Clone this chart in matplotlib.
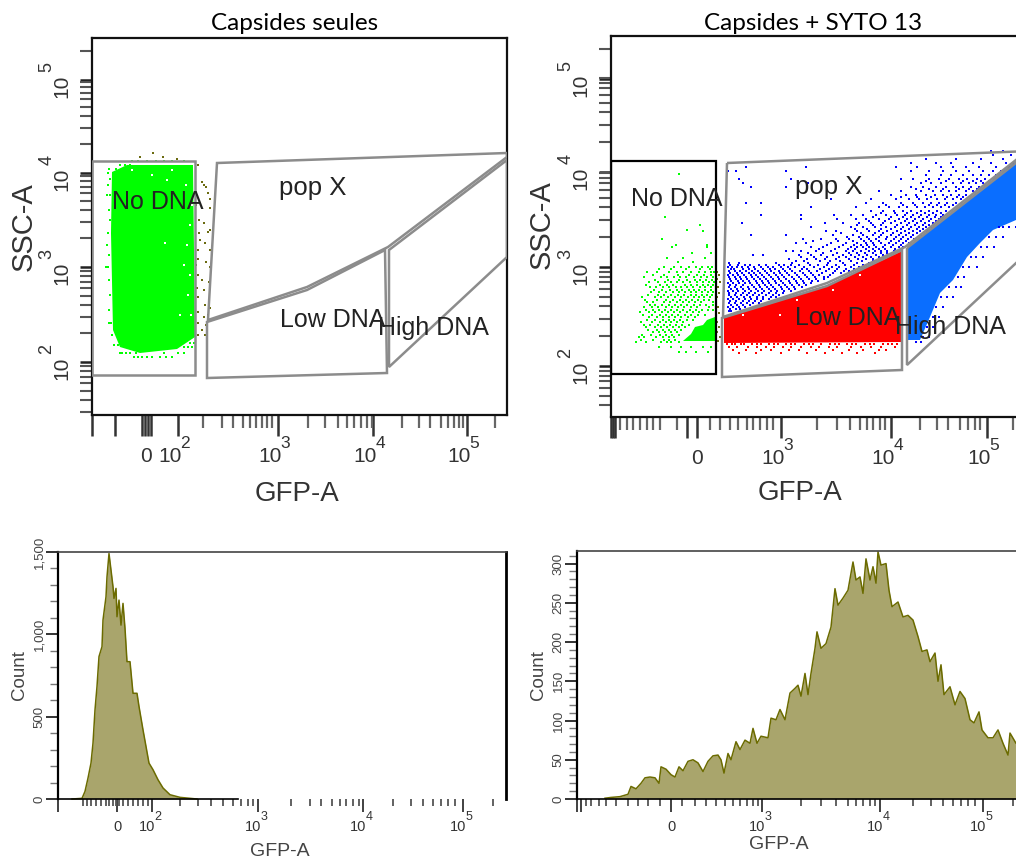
import numpy as np
import matplotlib
matplotlib.use("Agg")
import matplotlib.pyplot as plt
from matplotlib.patches import Polygon

plt.rcParams["font.family"] = ["Liberation Sans", "DejaVu Sans"]

# all positions below are display channels of each plot

# ---- scatter plots: axis ticks ----
left_x_long = [0, 23, 50, 53, 56, 59, 86, 186, 281, 375]
left_x_label_pos = [54, 86, 186, 281, 375]
left_x_exps = [None, 2, 3, 4, 5]
left_x_minor = [111, 130, 141, 151, 158, 164, 170, 175, 180,
                216, 233, 246, 255, 262, 269, 275, 280, 310, 327, 338, 349, 356, 362, 367, 371, 403]
right_x_long = [0, 2, 4, 76, 86, 170, 280, 376]
right_x_label_pos = [86, 170, 280, 376]
right_x_exps = [None, 3, 4, 5]
right_x_minor = [9, 16, 22, 29, 36, 42, 49, 66, 99, 109, 119, 127, 136, 142, 149, 156, 162,
                 206, 226, 239, 249, 256, 262, 269, 274, 309, 326, 337, 349, 357, 364, 369, 402]
left_y_major = [53, 148, 242, 335]
right_y_major = [51, 150, 245, 338]
y_exps = [2, 3, 4, 5]

# ---- gates ----
left_no_dna = [(0, 254), (103, 254), (103, 40), (0, 40)]
left_pop_x = [(125, 252), (415, 262), (415, 258), (296, 168), (215, 128), (116, 95)]
left_low_dna = [(115, 93), (215, 125), (293, 165), (295, 42), (115, 37)]
left_high_dna = [(297, 165), (415, 255), (415, 158), (297, 48)]
right_no_dna = [(0, 256), (105, 256), (105, 43), (0, 43)]
right_pop_x = [(116, 254), (419, 266), (419, 268), (294, 170), (216, 134), (112, 100)]
right_low_dna = [(111, 99), (216, 131), (291, 167), (291, 47), (111, 40)]
right_high_dna = [(296, 169), (419, 265), (419, 167), (296, 52)]

# ---- scatter plots: populations ----
left_green_core = [(20, 243), (35, 250), (101, 250), (103, 78), (85, 66), (48, 62), (28, 68), (21, 85), (19, 182)]
left_green_edge = [
    (254, [40, 46, 55, 64, 72, 80, 92]), (250, [28, 33, 38]), (246, [17, 24, 30]), (242, [16, 22]), (236, [18]),
    (230, [16]), (220, [18, 15]), (205, [17]), (195, [18]), (182, [16]), (170, [15]), (160, [17]), (148, [14, 16]),
    (135, [17]), (120, [18]), (105, [17]), (92, [19, 17]), (80, [20]), (70, [22, 26]), (62, [28, 34, 38, 44, 30]),
    (58, [42, 46, 50, 55, 60, 68, 74, 80]), (62, [72, 86, 92]), (68, [92, 96, 100]), (72, [98, 102])]
left_green_specks = [(95, 170), (98, 190), (92, 150), (96, 120), (99, 100), (88, 100), (94, 230), (80, 245),
                     (60, 240), (75, 235), (40, 245), (73, 172), (100, 210), (98, 140)]
left_olive = [(48, 258), (61, 262), (71, 258), (85, 256), (106, 250), (110, 233), (112, 230), (114, 228),
              (116, 222), (118, 216), (118, 207), (107, 195), (112, 192), (118, 185), (107, 182), (116, 183),
              (108, 175), (113, 172), (106, 165), (118, 165), (106, 156), (114, 153), (118, 148), (106, 140),
              (110, 135), (117, 133), (105, 127), (112, 125), (106, 118), (113, 110), (118, 107), (106, 103),
              (112, 98), (116, 100), (106, 92), (114, 90), (110, 85), (106, 80), (113, 80), (104, 210), (104, 150)]

right_green_core = [(72, 76), (104, 76), (104, 100), (96, 97), (92, 92), (84, 90), (80, 83)]
right_green_rows = [
    (243, [68]), (200, [54]), (192, [89]), (187, [76]), (186, [92]), (178, [51]), (172, [65, 96]), (170, [61, 96]),
    (164, [81, 100]), (159, [56, 72, 94]), (155, [67, 82]),
    (150, [53, 63, 70, 78, 85, 91, 97, 101]), (148, [48, 60, 75, 89, 99]),
    (145, [36, 46, 58, 66, 72, 80, 88, 94, 100, 103]), (142, [42, 53, 67, 78, 86, 93, 100]),
    (140, [33, 50, 56, 63, 69, 75, 83, 90, 96, 102]), (137, [44, 57, 68, 76, 84, 89, 95, 101]),
    (135, [38, 47, 54, 60, 66, 72, 79, 86, 92, 98, 103]), (132, [35, 49, 56, 62, 74, 80, 86, 92, 97, 102]),
    (130, [39, 45, 52, 58, 65, 70, 76, 82, 89, 94, 100]), (127, [43, 51, 59, 66, 71, 78, 83, 88, 94, 100]),
    (125, [40, 48, 55, 62, 68, 74, 80, 85, 91, 97, 102]), (122, [37, 47, 53, 60, 67, 73, 80, 85, 91, 96, 101]),
    (120, [31, 44, 50, 57, 64, 70, 77, 83, 88, 93, 99]), (117, [34, 46, 55, 62, 69, 75, 81, 87, 93, 98]),
    (115, [36, 42, 53, 59, 66, 72, 78, 84, 90, 102]), (112, [39, 44, 51, 58, 64, 70, 76, 83, 89, 95, 102]),
    (110, [33, 41, 47, 55, 61, 67, 73, 80, 86, 98]), (107, [35, 42, 48, 54, 60, 66, 72, 79, 85, 91, 97, 102]),
    (105, [29, 38, 44, 51, 57, 63, 69, 76, 82, 88]), (102, [32, 41, 49, 55, 61, 67, 74, 80, 87, 94]),
    (100, [38, 46, 52, 58, 64, 70, 77, 84]), (97, [36, 44, 52, 58, 63, 69, 76, 82]),
    (95, [30, 41, 49, 55, 60, 66, 72]), (92, [33, 39, 47, 53, 59, 65, 71, 78]),
    (90, [35, 44, 50, 56, 62, 68, 74]), (87, [37, 46, 52, 58, 64, 70]),
    (85, [42, 48, 54, 60, 66]), (82, [31, 40, 49, 55, 61, 68]), (80, [28, 33, 45, 52, 58, 63]),
    (77, [30, 42, 53, 58, 64]), (75, [25, 35, 50, 56, 60, 68]),
    (70, [48, 60, 70, 80, 92, 100]), (65, [68, 75, 85, 97])]
right_olive = [(106, 145), (108, 142), (106, 138), (109, 135), (107, 130), (106, 95), (108, 90), (106, 85),
               (109, 80), (107, 76), (107, 110), (108, 104), (106, 120), (108, 124)]

blue_rows = [
    (266, [380, 392]), (262, [382, 400, 412]), (258, [315, 345, 370, 392, 408]), (254, [300, 325, 340, 362, 380, 395, 402]),
    (250, [135, 195, 285, 306, 330, 342, 355, 368, 385, 398]), (246, [117, 125, 175, 300, 318, 332, 345, 358, 372, 382, 390]),
    (242, [315, 330, 340, 352, 362, 370, 378, 385]), (238, [128, 180, 290, 302, 318, 328, 338, 348, 356, 366, 374]),
    (236, [315, 335, 352, 362, 370, 378]),
    (234, [132, 197, 310, 320, 330, 342, 350, 358, 365, 372]), (230, [140, 175, 300, 312, 325, 335, 345, 352, 360, 368]),
    (228, [305, 318, 332, 348, 358, 366]),
    (226, [268, 290, 310, 322, 330, 338, 345, 355, 362]), (222, [280, 295, 305, 315, 324, 332, 340, 348, 355]),
    (220, [290, 306, 320, 336, 346, 352]),
    (218, [220, 260, 285, 298, 308, 316, 326, 334, 342, 350]), (214, [135, 150, 255, 272, 290, 302, 312, 320, 328, 336, 345]),
    (212, [275, 292, 304, 318, 326, 334, 342]),
    (210, [200, 245, 268, 278, 288, 296, 306, 314, 322, 330, 338]), (206, [260, 272, 283, 292, 300, 310, 318, 326, 335]),
    (204, [270, 284, 296, 306, 314, 322, 330]),
    (202, [150, 190, 223, 240, 252, 265, 275, 286, 294, 302, 310, 318, 325, 332]),
    (200, [262, 280, 292, 300, 308, 316, 324, 330]),
    (198, [190, 226, 245, 255, 268, 278, 288, 296, 304, 312, 320, 328]),
    (196, [258, 274, 284, 294, 302, 310, 318, 325]),
    (194, [131, 214, 232, 248, 260, 272, 280, 290, 298, 306, 314, 322]),
    (192, [246, 262, 270, 286, 296, 304, 312, 318]),
    (190, [200, 240, 252, 264, 275, 284, 292, 300, 308, 315, 320]),
    (188, [244, 256, 270, 280, 290, 298, 306, 312]),
    (186, [215, 225, 246, 258, 268, 276, 286, 294, 302, 309, 316]),
    (184, [230, 250, 264, 272, 282, 290, 298, 306]),
    (182, [140, 175, 222, 242, 252, 262, 270, 280, 288, 295, 302, 310]),
    (180, [236, 248, 256, 268, 276, 285, 292, 300]),
    (178, [192, 210, 225, 238, 250, 258, 265, 275, 283, 290, 297, 303]),
    (176, [202, 227, 242, 253, 260, 268, 280, 288, 295]),
    (174, [185, 195, 220, 235, 246, 255, 262, 270, 278, 285, 292, 298]),
    (172, [216, 232, 243, 250, 256, 263, 274, 282, 290]),
    (170, [200, 212, 228, 240, 246, 252, 258, 265, 272, 280, 288, 292]),
    (168, [208, 224, 237, 244, 255, 262, 268, 274, 284]),
    (166, [175, 182, 190, 205, 220, 235, 242, 250, 258, 264, 270, 276, 283]),
    (164, [197, 212, 226, 238, 246, 254, 262, 270, 276]),
    (162, [142, 152, 188, 200, 210, 222, 232, 240, 248, 256, 265, 272, 278]),
    (160, [190, 203, 216, 228, 235, 244, 252, 260, 268]),
    (158, [178, 196, 205, 214, 225, 238, 247, 255, 262, 270]),
    (156, [185, 193, 209, 219, 229, 240, 251, 262]),
    (154, [118, 128, 165, 181, 197, 217, 232, 246, 258]),
    (152, [119, 127, 134, 139, 148, 155, 168, 173, 180, 188, 199, 207, 216, 225, 234, 243, 252]),
    (150, [117, 121, 126, 131, 137, 143, 150, 157, 162, 170, 177, 184, 193, 203, 213, 221, 228, 240, 248]),
    (148, [120, 123, 132, 138, 144, 152, 159, 164, 172, 179, 191, 196, 209, 218, 226, 235, 243]),
    (146, [118, 124, 129, 135, 141, 147, 154, 160, 168, 174, 181, 189, 198, 206, 215, 224, 233, 238]),
    (144, [119, 126, 131, 138, 143, 149, 156, 163, 169, 176, 184, 192, 200, 211, 222, 230]),
    (142, [117, 122, 127, 133, 140, 145, 151, 158, 165, 171, 178, 186, 194, 202, 208, 219]),
    (140, [118, 124, 129, 135, 141, 147, 153, 160, 167, 173, 181, 188, 196, 204, 213, 217]),
    (138, [119, 125, 130, 136, 143, 149, 155, 162, 168, 175, 183, 190, 198, 205, 213]),
    (136, [120, 127, 132, 138, 145, 151, 157, 164, 170, 178, 185, 192, 201, 207]),
    (134, [117, 122, 128, 134, 139, 146, 152, 158, 165, 172, 179, 186, 193, 200]),
    (132, [119, 125, 132, 141, 148, 154, 160, 168, 174, 181, 188, 195]),
    (130, [118, 124, 130, 137, 143, 149, 156, 162, 170, 176, 183, 191]),
    (128, [120, 126, 132, 138, 145, 151, 158, 164, 171, 178, 184]),
    (126, [117, 122, 127, 134, 140, 147, 153, 160, 166, 173, 180]),
    (124, [118, 125, 132, 138, 144, 151, 158, 165, 172]),
    (122, [118, 124, 130, 136, 142, 148, 155, 162, 168]),
    (120, [120, 126, 133, 139, 146, 152, 160, 165]),
    (118, [117, 122, 128, 134, 140, 146, 152, 158]),
    (116, [119, 125, 132, 138, 144, 150]),
    (114, [118, 124, 130, 136, 142, 148]),
    (112, [120, 126, 132, 139]),
    (110, [117, 122, 128, 134]), (108, [119, 125, 129]), (106, [118, 120]),
    (190, [388, 392, 398, 405]), (180, [378, 385, 392]), (170, [370, 376, 383]), (160, [360, 365, 372]),
    (150, [352, 358, 366]), (140, [347, 353]), (130, [338, 345, 350]), (120, [330, 336, 342]),
    (110, [325, 332]), (100, [322, 328]), (90, [316, 322]), (80, [312, 318]), (75, [305, 310])]
blue_core = [(297, 170), (405, 256), (419, 267), (419, 198), (405, 197), (382, 187), (369, 174), (356, 160),
             (342, 137), (329, 124), (319, 100), (309, 77), (297, 77)]
red_core = [(113, 99), (216, 131), (291, 166), (291, 75), (113, 74)]
red_rows = [
    (73, [116, 121, 124, 130, 133, 141, 146, 150, 158, 163, 167, 175, 180, 184, 193, 198, 202, 210, 219, 224, 228,
          236, 241, 245, 254, 259, 263, 272, 277, 281, 286]),
    (70, [118, 126, 137, 146, 155, 163, 172, 180, 190, 200, 208, 218, 226, 240, 250, 260, 270, 284]),
    (67, [122, 135, 150, 160, 178, 188, 205, 222, 238, 252, 268, 275]),
    (64, [128, 145, 170, 196, 214, 231, 246, 264])]
red_specks = [(132, 102), (169, 102), (222, 127), (249, 142), (186, 117)]

# ---- histograms ----
hist_left_x = [14, 24, 27, 30, 33, 35, 37, 39, 41, 44, 45, 48, 49, 51, 53, 55, 56, 58, 59, 61, 63, 65, 67, 69,
               72, 75, 79, 81, 85, 88, 91, 95, 100, 105, 112, 122, 139]
hist_left_count = [0, 4, 46, 127, 218, 339, 541, 683, 865, 925, 1087, 1228, 1349, 1491, 1390, 1289, 1218, 1279,
                   1107, 1208, 1056, 1188, 1036, 834, 834, 642, 642, 562, 420, 319, 218, 178, 117, 67, 26, 10, 0]
hist_right_x = [28, 34, 43, 51, 54, 59, 64, 68, 73, 78, 82, 84, 89, 94, 98, 102, 106, 111, 116, 121, 126, 131,
                136, 141, 144, 147, 151, 154, 159, 163, 168, 173, 176, 180, 184, 191, 194, 199, 203, 208,
                213, 218, 221, 224, 228, 231, 234, 238, 240, 244, 249, 254, 258, 261, 266, 271, 276, 279,
                283, 286, 289, 293, 296, 299, 301, 304, 309, 312, 315, 321, 326, 331, 336, 341, 345, 350,
                353, 358, 361, 364, 367, 373, 378, 383, 388, 393, 397, 402, 405, 411, 416, 421, 426, 431,
                433, 439, 450]
hist_right_count = [1, 2, 3, 6, 16, 13, 20, 27, 28, 27, 20, 41, 38, 31, 28, 41, 36, 48, 50, 46, 35, 48,
                    55, 56, 50, 33, 58, 50, 73, 63, 75, 71, 90, 71, 80, 78, 103, 101, 114, 101,
                    135, 141, 145, 131, 160, 133, 160, 192, 213, 192, 198, 219, 268, 247, 256, 266, 302, 279,
                    283, 262, 306, 279, 296, 275, 315, 298, 300, 266, 245, 251, 232, 234, 228, 207, 188, 190,
                    175, 186, 150, 171, 133, 143, 120, 137, 128, 101, 97, 111, 88, 78, 78, 88, 71, 56,
                    84, 71, 67]
hist_left_major = [0, 59, 94, 200, 305, 405]
hist_left_label_pos = [59, 94, 200, 305, 405]
hist_left_exps = [None, 2, 3, 4, 5]
hist_left_minor = [25, 29, 33, 38, 43, 48, 51, 55, 58, 61, 65, 70, 75, 80, 85, 90, 122, 140, 153, 165, 175,
                   183, 190, 195, 233, 252, 263, 274, 282, 288, 295, 301, 335, 353, 365, 375, 383, 390, 397, 435]
hist_right_major = [0, 4, 94, 185, 303, 406]
hist_right_label_pos = [94, 185, 303, 406]
hist_right_exps = [None, 3, 4, 5]
hist_right_minor = [9, 14, 22, 29, 39, 51, 61, 71, 83, 105, 118, 129, 139, 148, 156, 163, 170, 176, 181,
                    224, 244, 259, 271, 279, 286, 293, 298, 336, 354, 366, 376, 384, 391, 398, 436]


def add_panel(left, top, right, bottom):
    return fig.add_axes([left / 1016, 1 - bottom / 859, (right - left) / 1016, (bottom - top) / 859])


def flatten(rows):
    xs, ys = [], []
    for y, row in rows:
        xs += row
        ys += [y] * len(row)
    return xs, ys


def gate(ax, pts, color="#8c8c8c", lw=1.8):
    ax.add_patch(Polygon(pts, closed=True, fill=False, edgecolor=color, linewidth=lw, zorder=4))


def dots(ax, xs, ys, color, s=3.5, z=2):
    ax.scatter(xs, ys, s=s, c=color, marker="s", linewidths=0, zorder=z)


def put(ax, text, xy, trans, dx, dy, size, rot=0):
    # dx, dy are pixels away from the tick
    ax.annotate(text, xy=xy, xycoords=trans, xytext=(dx * 0.72, dy * 0.72), textcoords="offset points",
                fontsize=size, color="#333333", ha="center", va="center", rotation=rot, annotation_clip=False)


def x_decade_labels(ax, positions, exps, y0, y1, dx0, dx1, size, esize):
    for pos, e in zip(positions, exps):
        if e is None:
            put(ax, "0", (pos, 0), ax.get_xaxis_transform(), 0, y0, size)
        else:
            put(ax, "10", (pos, 0), ax.get_xaxis_transform(), dx0, y0, size)
            put(ax, str(e), (pos, 0), ax.get_xaxis_transform(), dx1, y1, esize)


def setup_scatter(ax, xlim, ylim, x_long, x_label_pos, x_exps, x_minor, y_major):
    ax.set_xlim(0, xlim)
    ax.set_ylim(0, ylim)
    ax.set_xticks(x_long)
    ax.set_xticks(x_minor, minor=True)
    x_decade_labels(ax, x_label_pos, x_exps, -41, -28, -8, 7, 15, 12.5)
    decade = y_major[1] - y_major[0]
    y_minor = []
    for base in [y_major[0] - decade] + y_major:
        y_minor += list(base + decade * np.log10(np.arange(2, 10)))
    y_minor = [v for v in y_minor if 2 < v < ylim - 12 and v not in y_major]
    ax.set_yticks(y_major)
    ax.set_yticks(y_minor, minor=True)
    for pos, e in zip(y_major, y_exps):
        put(ax, "10", (0, pos), ax.get_yaxis_transform(), -30, -6, 15, rot=90)
        put(ax, str(e), (0, pos), ax.get_yaxis_transform(), -45, 13, 13, rot=90)
    ax.tick_params(labelbottom=False, labelleft=False)
    ax.tick_params(axis="x", which="major", length=15, width=1.8, color="#333333")
    ax.tick_params(axis="x", which="minor", length=9, width=1.6, color="#666666")
    ax.tick_params(axis="y", which="major", length=9, width=1.8, color="#222222")
    ax.tick_params(axis="y", which="minor", length=9, width=1.5, color="#555555")
    for sp in ax.spines.values():
        sp.set_linewidth(1.6)
        sp.set_color("#111111")


def setup_hist(ax, xlim, ylim, x_major, x_label_pos, x_exps, x_minor, y_major, y_labels, y_minor):
    ax.set_xlim(0, xlim)
    ax.set_ylim(0, ylim)
    ax.set_xticks(x_major)
    ax.set_xticks(x_minor, minor=True)
    x_decade_labels(ax, x_label_pos, x_exps, -28, -18, -5, 6, 10.5, 9)
    ax.set_yticks(y_major, y_labels, fontsize=9.5, color="#444444", rotation=90, va="center")
    ax.set_yticks(y_minor, minor=True)
    ax.tick_params(labelbottom=False)
    ax.tick_params(axis="x", which="major", length=9, width=1.3, color="#333333")
    ax.tick_params(axis="x", which="minor", length=5, width=1.3, color="#555555")
    ax.tick_params(axis="y", which="major", length=9, width=1.4, color="#333333", pad=0)
    ax.tick_params(axis="y", which="minor", length=6, width=1.0, color="#777777")
    ax.spines["top"].set_linewidth(1.2)
    ax.spines["top"].set_color("#444444")
    ax.spines["left"].set_linewidth(1.6)
    ax.spines["right"].set_linewidth(2)
    ax.spines["bottom"].set_linewidth(1.2)
    ax.set_ylabel("Count", fontsize=13.5, color="#444444")
    ax.set_xlabel("GFP-A", fontsize=14, color="#444444")


fig = plt.figure(figsize=(10.16, 8.59), dpi=100)

# top left: capsids alone
ax = add_panel(92, 38, 507, 415)
setup_scatter(ax, 415, 377, left_x_long, left_x_label_pos, left_x_exps, left_x_minor, left_y_major)
ax.add_patch(Polygon(left_green_core, closed=True, color="#00ff00", linewidth=0, zorder=1))
dots(ax, *flatten(left_green_edge), "#00ff00")
dots(ax, *zip(*left_green_specks), "white", s=2.5)
dots(ax, *zip(*left_olive), "#6b6b10", s=3.5)
for g in [left_no_dna, left_pop_x, left_low_dna, left_high_dna]:
    gate(ax, g)
for label, x, y, size in [("No DNA", 66, 213, 18), ("pop X", 221, 227, 18.5),
                          ("Low DNA", 241, 95, 18), ("High DNA", 341, 87, 18)]:
    ax.text(x, y, label, fontsize=size, color="#222222", ha="center", va="center", zorder=5)
ax.set_xlabel("GFP-A", fontsize=20, color="#333333")
ax.xaxis.set_label_coords(205 / 415, -0.175)
ax.set_ylabel("SSC-A", fontsize=21, color="#333333")
ax.yaxis.set_label_coords(-0.130, 0.499)
ax.set_title("Capsides seules", fontsize=17.5, family="Lato", pad=6, x=0.489)

# top right: capsids + SYTO 13, the right edge of this plot runs off the picture
ax = add_panel(611, 36, 1030, 417)
setup_scatter(ax, 419, 381, right_x_long, right_x_label_pos, right_x_exps, right_x_minor, right_y_major)
ax.add_patch(Polygon(right_green_core, closed=True, color="#00ff00", linewidth=0, zorder=1))
dots(ax, *flatten(right_green_rows), "#00ff00")
dots(ax, *zip(*right_olive), "#6b6b10", s=4)
dots(ax, *flatten(blue_rows), "#0000ff")
ax.add_patch(Polygon(red_core, closed=True, color="#ff0000", linewidth=0, zorder=1))
dots(ax, *flatten(red_rows), "#ff0000", s=3)
dots(ax, *zip(*red_specks), "white", s=3)
ax.add_patch(Polygon(blue_core, closed=True, color="#0a6eff", linewidth=0, zorder=1))
for g in [right_pop_x, right_low_dna, right_high_dna]:
    gate(ax, g)
gate(ax, right_no_dna, color="#000000", lw=1.6)
for label, x, y, size in [("No DNA", 66, 218, 18), ("pop X", 218, 230, 18.5),
                          ("Low DNA", 237, 99, 18), ("High DNA", 339, 90, 18)]:
    ax.text(x, y, label, fontsize=size, color="#222222", ha="center", va="center", zorder=5)
ax.set_xlabel("GFP-A", fontsize=20, color="#333333")
ax.xaxis.set_label_coords(189 / 419, -0.165)
ax.set_ylabel("SSC-A", fontsize=21, color="#333333")
ax.yaxis.set_label_coords(-0.131, 0.504)
ax.set_title("Capsides + SYTO 13", fontsize=17.5, family="Lato", pad=4, x=202 / 419)

# bottom left
ax = add_panel(58, 552, 506, 799)
setup_hist(ax, 448, 1500, hist_left_major, hist_left_label_pos, hist_left_exps, hist_left_minor,
           [0, 500, 1000, 1500], ["0", "500", "1,000", "1,500"], list(range(100, 1500, 100)))
ax.fill_between(hist_left_x, hist_left_count, color="#a9a56c", linewidth=0)
ax.plot(hist_left_x, hist_left_count, color="#6b6b00", linewidth=1.1, clip_on=False)
ax.spines["bottom"].set_bounds(0, 180)
ax.xaxis.set_label_coords(222 / 448, -0.178)

# bottom right
ax = add_panel(577, 551, 1027, 799)
setup_hist(ax, 450, 316, hist_right_major, hist_right_label_pos, hist_right_exps, hist_right_minor,
           [0, 50, 100, 150, 200, 250, 300], ["0", "50", "100", "150", "200", "250", "300"],
           list(range(10, 316, 10)))
ax.fill_between(hist_right_x, hist_right_count, color="#a9a56c", linewidth=0)
ax.plot(hist_right_x, hist_right_count, color="#6b6b00", linewidth=1.1, clip_on=False)
ax.xaxis.set_label_coords(202 / 450, -0.149)

fig.savefig("out.png", dpi=100)
